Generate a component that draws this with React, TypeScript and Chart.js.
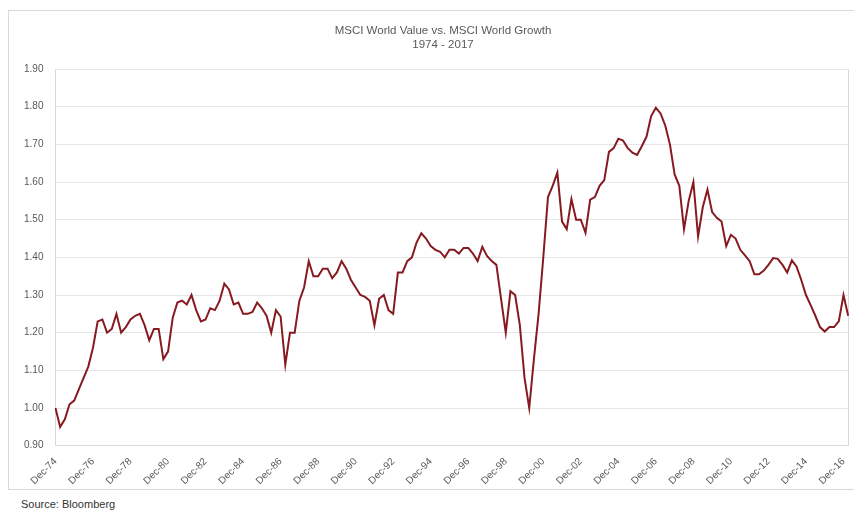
import React, { useEffect, useRef } from 'react';
import { Chart, registerables } from 'chart.js';

Chart.register(...registerables);

// Quarter-end months, starting at Dec-1974
const QUARTER_MONTHS = ['Dec', 'Mar', 'Jun', 'Sep'];
const START_YEAR = 1974;

// MSCI World Value / MSCI World Growth relative ratio (quarterly, Dec-74 .. Mar-17)
const ratio: number[] = [
  1.0, 0.95, 0.97, 1.01, // Dec-74 .. Sep-75
  1.02, 1.05, 1.08, 1.11,
  1.16, 1.23, 1.235, 1.2,
  1.21, 1.25, 1.2, 1.215,
  1.235, 1.245, 1.25, 1.22,
  1.18, 1.21, 1.21, 1.13,
  1.15, 1.24, 1.28, 1.285,
  1.275, 1.3, 1.26, 1.23,
  1.235, 1.265, 1.26, 1.285,
  1.33, 1.315, 1.275, 1.28,
  1.25, 1.25, 1.255, 1.28,
  1.265, 1.245, 1.2, 1.26,
  1.243, 1.115, 1.2, 1.2,
  1.285, 1.32, 1.39, 1.35,
  1.35, 1.37, 1.37, 1.345,
  1.36, 1.39, 1.37, 1.34,
  1.32, 1.3, 1.295, 1.285,
  1.22, 1.29, 1.3, 1.26,
  1.25, 1.36, 1.36, 1.39,
  1.4, 1.44, 1.464, 1.45,
  1.43, 1.42, 1.415, 1.4,
  1.42, 1.42, 1.41, 1.425,
  1.425, 1.41, 1.39, 1.428,
  1.404, 1.39, 1.38, 1.29,
  1.2, 1.31, 1.3, 1.22,
  1.08, 1.0, 1.13, 1.25,
  1.4, 1.56, 1.59, 1.625,
  1.495, 1.475, 1.555, 1.5,
  1.5, 1.465, 1.553, 1.56,
  1.59, 1.605, 1.68, 1.69,
  1.715, 1.71, 1.69, 1.678,
  1.672, 1.695, 1.72, 1.775,
  1.797, 1.782, 1.75, 1.7,
  1.62, 1.59, 1.475, 1.55,
  1.6, 1.455, 1.533, 1.58,
  1.52, 1.505, 1.495, 1.43,
  1.46, 1.45, 1.42, 1.405,
  1.39, 1.355, 1.355, 1.365,
  1.38, 1.398, 1.396, 1.38,
  1.36, 1.392, 1.375, 1.34,
  1.3, 1.273, 1.245, 1.215,
  1.203, 1.215, 1.215, 1.23,
  1.3, 1.245, // Dec-16, Mar-17
];

const categories: string[] = ratio.map((_, i) => {
  const q = i % 4;
  const yr = START_YEAR + Math.floor(i / 4) + (q > 0 ? 1 : 0);
  return `${QUARTER_MONTHS[q]}-${String(yr % 100).padStart(2, '0')}`;
});

const TICK_LABELS: string[] = [
  'Dec-74', 'Dec-76', 'Dec-78', 'Dec-80', 'Dec-82', 'Dec-84', 'Dec-86', 'Dec-88',
  'Dec-90', 'Dec-92', 'Dec-94', 'Dec-96', 'Dec-98', 'Dec-00', 'Dec-02', 'Dec-04',
  'Dec-06', 'Dec-08', 'Dec-10', 'Dec-12', 'Dec-14', 'Dec-16',
];

const TITLE_LINES = ['MSCI World Value vs. MSCI World Growth', '1974 - 2017'];
const SOURCE = 'Source: Bloomberg';

const FONT = "'Liberation Sans', Arial, sans-serif";

export default function App() {
  const ref = useRef<HTMLCanvasElement | null>(null);

  useEffect(() => {
    if (!ref.current) return;
    const rightBorder = {
      id: 'rightBorder',
      beforeDatasetsDraw(chart: any) {
        const { ctx, chartArea } = chart;
        ctx.save();
        ctx.strokeStyle = '#d9d9d9';
        ctx.lineWidth = 1;
        ctx.beginPath();
        ctx.moveTo(Math.round(chartArea.right) + 0.5, chartArea.top);
        ctx.lineTo(Math.round(chartArea.right) + 0.5, chartArea.bottom);
        ctx.stroke();
        ctx.restore();
      },
    };
    const chart = new Chart(ref.current, {
      type: 'line',
      data: {
        labels: categories,
        datasets: [
          {
            data: ratio,
            borderColor: '#861a20',
            borderWidth: 2,
            pointRadius: 0,
            tension: 0,
            fill: false,
          },
        ],
      },
      options: {
        animation: false,
        responsive: true,
        maintainAspectRatio: false,
        layout: { padding: { left: 3, right: 5, top: 58, bottom: 0 } },
        plugins: {
          legend: { display: false },
          tooltip: { enabled: false },
          title: { display: false },
        },
        scales: {
          x: {
            grid: { display: false },
            border: { display: true, color: '#d9d9d9' },
            ticks: {
              autoSkip: false,
              maxRotation: 45,
              minRotation: 45,
              padding: 2,
              color: '#595959',
              font: { family: FONT, size: 10 },
              callback: (_v: any, i: number) =>
                TICK_LABELS.includes(categories[i]) ? categories[i] : null,
            },
          },
          y: {
            min: 0.9,
            max: 1.9,
            grid: { color: '#e6e6e6', drawTicks: false },
            border: { display: true, color: '#d9d9d9' },
            ticks: {
              stepSize: 0.1,
              padding: 12,
              color: '#595959',
              font: { family: FONT, size: 10 },
              callback: (v: any) => Number(v).toFixed(2),
            },
          },
        },
      },
      plugins: [rightBorder],
    });
    return () => chart.destroy();
  }, []);

  return (
    <div style={{ paddingTop: 2, fontFamily: FONT }}>
      <div
        style={{
          borderTop: '1px solid #d9d9d9',
          borderLeft: '1px solid #d9d9d9',
          borderBottom: '1px solid #d9d9d9',
          height: 478,
          position: 'relative',
          overflow: 'hidden',
        }}
      >
        <canvas ref={ref} />
        <div
          style={{
            position: 'absolute',
            left: 0,
            top: 12,
            width: 868,
            textAlign: 'center',
            fontSize: 11.5,
            lineHeight: '14px',
            color: '#595959',
            pointerEvents: 'none',
          }}
        >
          {TITLE_LINES.map((t) => (
            <div key={t}>{t}</div>
          ))}
        </div>
      </div>
      <div style={{ marginTop: 8, marginLeft: 13, fontSize: 11, color: '#333333' }}>{SOURCE}</div>
    </div>
  );
}
